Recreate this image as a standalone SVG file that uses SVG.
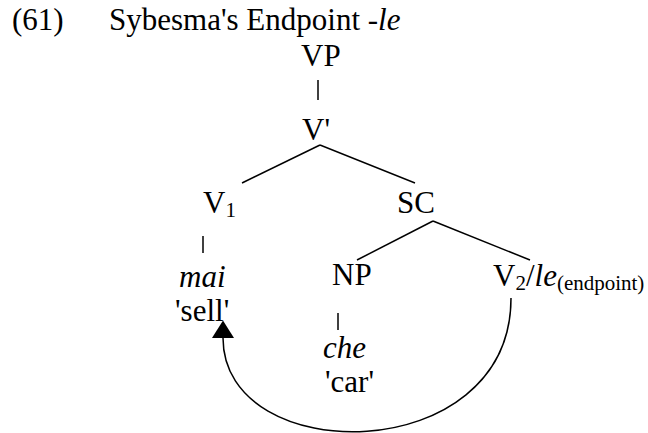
<svg xmlns="http://www.w3.org/2000/svg" width="648" height="433" viewBox="0 0 648 433" font-family="'Liberation Serif', 'Times New Roman', 'DejaVu Serif', serif">
<style>
text{font-family:'Liberation Serif','Times New Roman','DejaVu Serif',serif;font-size:31px;fill:#000}
.it{font-style:italic}
.sub{font-size:21px}
.edge{stroke:#000;stroke-width:1.5;fill:none}
</style>
<defs>
<marker id="ah" markerUnits="userSpaceOnUse" markerWidth="18" markerHeight="22" viewBox="0 0 16 20" refX="0" refY="10" orient="auto">
<path d="M0,0 L16,10 L0,20 z" fill="#000"/>
</marker>
</defs>
<rect width="648" height="433" fill="#fff"/>
<g id="title">
<text x="12" y="30">(61)</text>
<text x="109" y="30">Sybesma's Endpoint -<tspan class="it">le</tspan></text>
</g>
<g id="connectors">
<line class="edge" x1="318" y1="80" x2="318" y2="100"/>
<line class="edge" x1="320" y1="145" x2="242" y2="183"/>
<line class="edge" x1="320" y1="145" x2="415" y2="183"/>
<line class="edge" x1="203" y1="236" x2="203" y2="253"/>
<line class="edge" x1="433" y1="221" x2="357" y2="260"/>
<line class="edge" x1="433" y1="221" x2="530" y2="260"/>
<line class="edge" x1="338" y1="313" x2="338" y2="330"/>
<path class="edge" d="M511,298 C511,469 223,469 223,338" marker-end="url(#ah)"/>
</g>
<g id="VP"><text x="301" y="66">VP</text></g>
<g id="Vbar"><text x="302" y="140">V'</text></g>
<g id="V1"><text x="203" y="213">V<tspan class="sub" dy="4">1</tspan></text></g>
<g id="SC"><text x="397" y="213">SC</text></g>
<g id="mai"><text x="179" y="287" class="it">mai</text><text x="175" y="321">'sell'</text></g>
<g id="NP"><text x="332" y="285">NP</text></g>
<g id="V2"><text x="493" y="286">V<tspan class="sub" dy="4">2</tspan><tspan dy="-4">/</tspan><tspan class="it">le</tspan><tspan class="sub" dy="4">(endpoint)</tspan></text></g>
<g id="che"><text x="323" y="358" class="it">che</text><text x="325" y="392">'car'</text></g>
</svg>
